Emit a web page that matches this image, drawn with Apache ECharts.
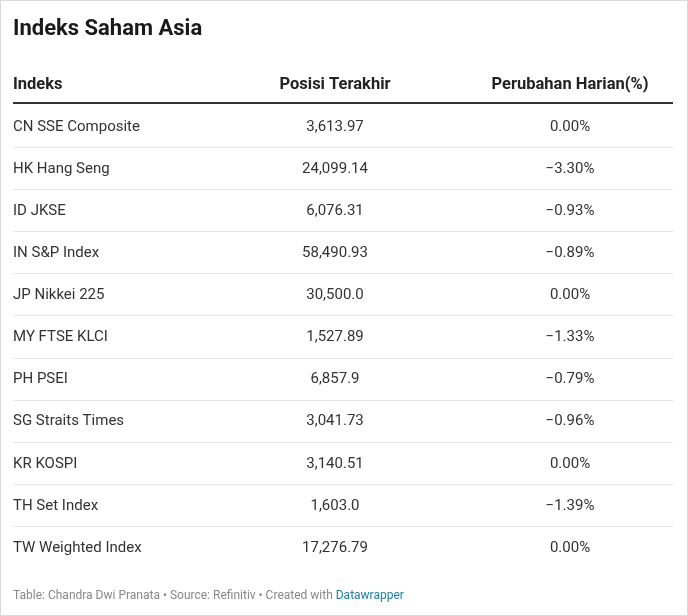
<!DOCTYPE html>
<html lang="en">
<head>
    <meta charset="UTF-8">
    <title>Indeks Saham Asia</title>
    <script src="https://cdn.jsdelivr.net/npm/echarts@6/dist/echarts.min.js"></script>
    <style>
        html, body { margin: 0; padding: 0; background: #fff; }
        #main { width: 688px; height: 616px; }
    </style>
</head>
<body>
<div id="main"></div>
<script>
    // data
    let headers = ['Indeks', 'Posisi Terakhir', 'Perubahan Harian(%)'];
    let indexNames = ['CN SSE Composite', 'HK Hang Seng', 'ID JKSE', 'IN S&P Index', 'JP Nikkei 225',
        'MY FTSE KLCI', 'PH PSEI', 'SG Straits Times', 'KR KOSPI', 'TH Set Index', 'TW Weighted Index'];
    let lastValues = ['3,613.97', '24,099.14', '6,076.31', '58,490.93', '30,500.0',
        '1,527.89', '6,857.9', '3,041.73', '3,140.51', '1,603.0', '17,276.79'];
    let dailyChanges = ['0.00%', '−3.30%', '−0.93%', '−0.89%', '0.00%',
        '−1.33%', '−0.79%', '−0.96%', '0.00%', '−1.39%', '0.00%'];

    let font = 'Roboto, "Liberation Sans", sans-serif';
    let rowTop = 127, rowStep = 42.1;
    let colX = [13, 335, 570];
    let colAlign = ['left', 'center', 'center'];

    let elements = [];
    // frame
    elements.push({ type: 'rect', shape: { x: 0.5, y: 0.5, width: 687, height: 615 },
        style: { fill: 'none', stroke: '#d9d9d9', lineWidth: 1 } });
    // title
    elements.push({ type: 'text', x: 13, y: 29, style: { text: 'Indeks Saham Asia', font: 'bold 22px ' + font,
        fill: '#1a1a1a', verticalAlign: 'middle' } });
    // header
    headers.forEach((h, i) => {
        elements.push({ type: 'text', x: colX[i], y: 85, style: { text: h, font: 'bold 16.5px ' + font,
            fill: '#222', align: colAlign[i], verticalAlign: 'middle' } });
    });
    elements.push({ type: 'line', shape: { x1: 13, y1: 103, x2: 673, y2: 103 },
        style: { stroke: '#333', lineWidth: 2 } });
    // rows
    indexNames.forEach((name, r) => {
        let y = rowTop + r * rowStep;
        [name, lastValues[r], dailyChanges[r]].forEach((t, i) => {
            elements.push({ type: 'text', x: colX[i], y: y, style: { text: t, font: '15px ' + font,
                fill: '#333', align: colAlign[i], verticalAlign: 'middle' } });
        });
        if (r < indexNames.length - 1) {
            let ly = Math.round(y - 1 + rowStep / 2) + 0.5;
            elements.push({ type: 'line', shape: { x1: 13, y1: ly, x2: 673, y2: ly },
                style: { stroke: '#e6e6e6', lineWidth: 1 } });
        }
    });
    // footer
    elements.push({ type: 'text', x: 13, y: 596, style: {
        text: '{g|Table: Chandra Dwi Pranata • Source: Refinitiv • Created with }{b|Datawrapper}',
        verticalAlign: 'middle',
        rich: { g: { font: '12px ' + font, fill: '#888' }, b: { font: '12px ' + font, fill: '#1d81a2' } } } });

    let myChart = echarts.init(document.getElementById('main'), null, { renderer: 'canvas' });
    myChart.setOption({ animation: false, graphic: { elements: elements } });
</script>
</body>
</html>
